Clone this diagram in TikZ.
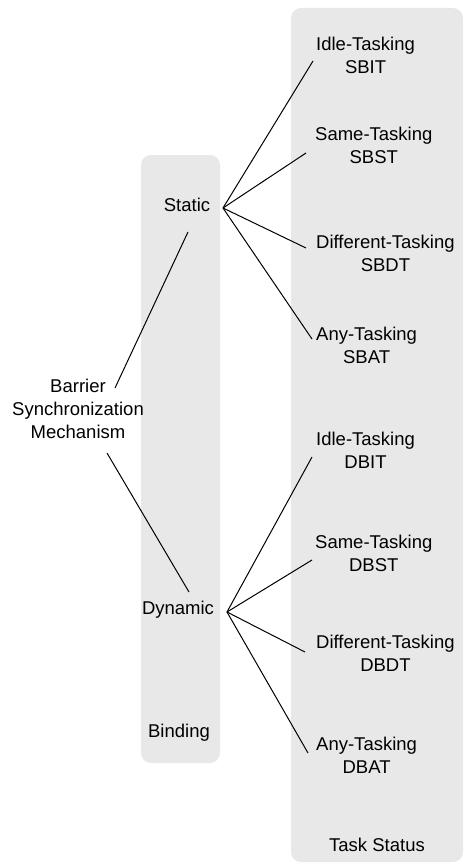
\documentclass[tikz,border=0pt]{standalone}
\usepackage{fontspec}
\setmainfont{Liberation Sans}
\begin{document}
\begin{tikzpicture}[x=1pt,y=-1pt,
  panel/.style={fill=black!9,draw=none,rounded corners=10pt},
  lbl/.style={font=\fontsize{18.5}{23}\selectfont,inner sep=0pt,align=center},
  leaf/.style={lbl,anchor=north west},
  con/.style={draw=black,line width=1pt}]
\useasboundingbox (0,0) rectangle (464,864);
\fill[panel] (291,8) rectangle (463,862);
\fill[panel] (141,155) rectangle (220,763);
% category labels
\node[lbl] (bind) at (179,733) {Binding};
\node[lbl] (task) at (377,845) {Task Status};
% main nodes
\node[lbl] (bsm) at (78,409) {Barrier\\Synchronization\\Mechanism};
\node[lbl] (stat) at (187,205) {Static};
\node[lbl] (dyn) at (178,610) {Dynamic};
\coordinate (so) at (223,208);
\coordinate (do) at (227,612);
% static leaves
\node[leaf] (sbit) at (316,37) {Idle-Tasking\\SBIT};
\node[leaf] (sbst) at (315,127) {Same-Tasking\\SBST};
\node[leaf] (sbdt) at (316,235) {Different-Tasking\\SBDT};
\node[leaf] (sbat) at (316,327) {Any-Tasking\\SBAT};
% dynamic leaves
\node[leaf] (dbit) at (316,432) {Idle-Tasking\\DBIT};
\node[leaf] (dbst) at (315,535) {Same-Tasking\\DBST};
\node[leaf] (dbdt) at (316,635) {Different-Tasking\\DBDT};
\node[leaf] (dbat) at (316,737) {Any-Tasking\\DBAT};
% connectors
\coordinate (bt) at (115,388);
\coordinate (bb) at (107,453);
\coordinate (st) at (188,232);
\coordinate (dt) at (189,592);
\draw[con] (bt) -- (st);
\draw[con] (bb) -- (dt);
\draw[con] (so) -- (313,61) coordinate (e1);
\draw[con] (so) -- (306,153) coordinate (e2);
\draw[con] (so) -- (306,248) coordinate (e3);
\draw[con] (so) -- (312,339) coordinate (e4);
\draw[con] (do) -- (312,457) coordinate (f1);
\draw[con] (do) -- (312,560) coordinate (f2);
\draw[con] (do) -- (305,652) coordinate (f3);
\draw[con] (do) -- (308,753) coordinate (f4);
\end{tikzpicture}
\end{document}
